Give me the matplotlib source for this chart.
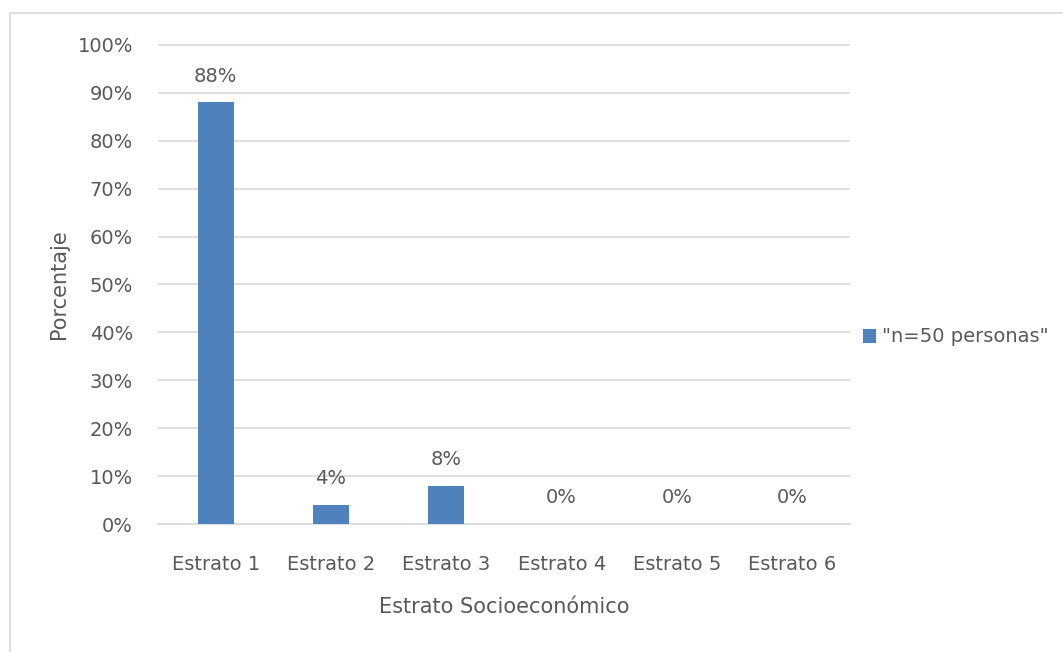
import matplotlib.pyplot as plt
from matplotlib.patches import Rectangle
from matplotlib.ticker import PercentFormatter

categorias = ['Estrato 1', 'Estrato 2', 'Estrato 3', 'Estrato 4', 'Estrato 5', 'Estrato 6']
porcentajes = [0.88, 0.04, 0.08, 0.0, 0.0, 0.0]
etiquetas = ['88%', '4%', '8%', '0%', '0%', '0%']
serie = '"n=50 personas"'

texto = '#595959'
azul = '#4f81bd'

fig = plt.figure(figsize=(10.63, 6.52), dpi=100)
# chart border
fig.patches.append(Rectangle((10 / 1063, -0.05), 1.1, 1 - 13 / 652 + 0.05,
                             transform=fig.transFigure, fill=False,
                             edgecolor='#d9d9d9', linewidth=1.2))

ax = fig.add_axes([158 / 1063, 1 - 524 / 652, 692 / 1063, 480 / 652])
x = range(len(categorias))
bars = ax.bar(x, porcentajes, width=0.31, color=azul, label=serie, zorder=3)

for xi, v, lab in zip(x, porcentajes, etiquetas):
    ax.annotate(lab, (xi, v), xytext=(0, 12), textcoords='offset points',
                ha='center', va='bottom', fontsize=14, color=texto)

ax.set_xlim(-0.5, 5.5)
ax.set_ylim(0, 1.002)
ax.set_yticks([i / 10 for i in range(11)])
ax.yaxis.set_major_formatter(PercentFormatter(1.0, decimals=0))
ax.set_xticks(list(x))
ax.set_xticklabels(categorias)
ax.tick_params(length=0, labelsize=14, colors=texto)
ax.tick_params(axis='x', pad=22)
ax.tick_params(axis='y', pad=18)
ax.grid(axis='y', color='#d9d9d9', linewidth=1.2, zorder=0)
for s in ['top', 'right', 'left']:
    ax.spines[s].set_visible(False)
ax.spines['bottom'].set_color('#d9d9d9')
ax.spines['bottom'].set_linewidth(1.2)

ax.set_ylabel('Porcentaje', fontsize=15, color=texto, labelpad=6)
ax.set_xlabel('Estrato Socioeconómico', fontsize=15, color=texto, labelpad=17)

fig.legend(*ax.get_legend_handles_labels(), loc='center left',
           bbox_to_anchor=(855 / 1063, 1 - 337 / 652), frameon=False,
           fontsize=14, labelcolor=texto, handlelength=0.7, handleheight=0.7,
           handletextpad=0.3, borderaxespad=0.0)

fig.savefig('out.png', dpi=100)
